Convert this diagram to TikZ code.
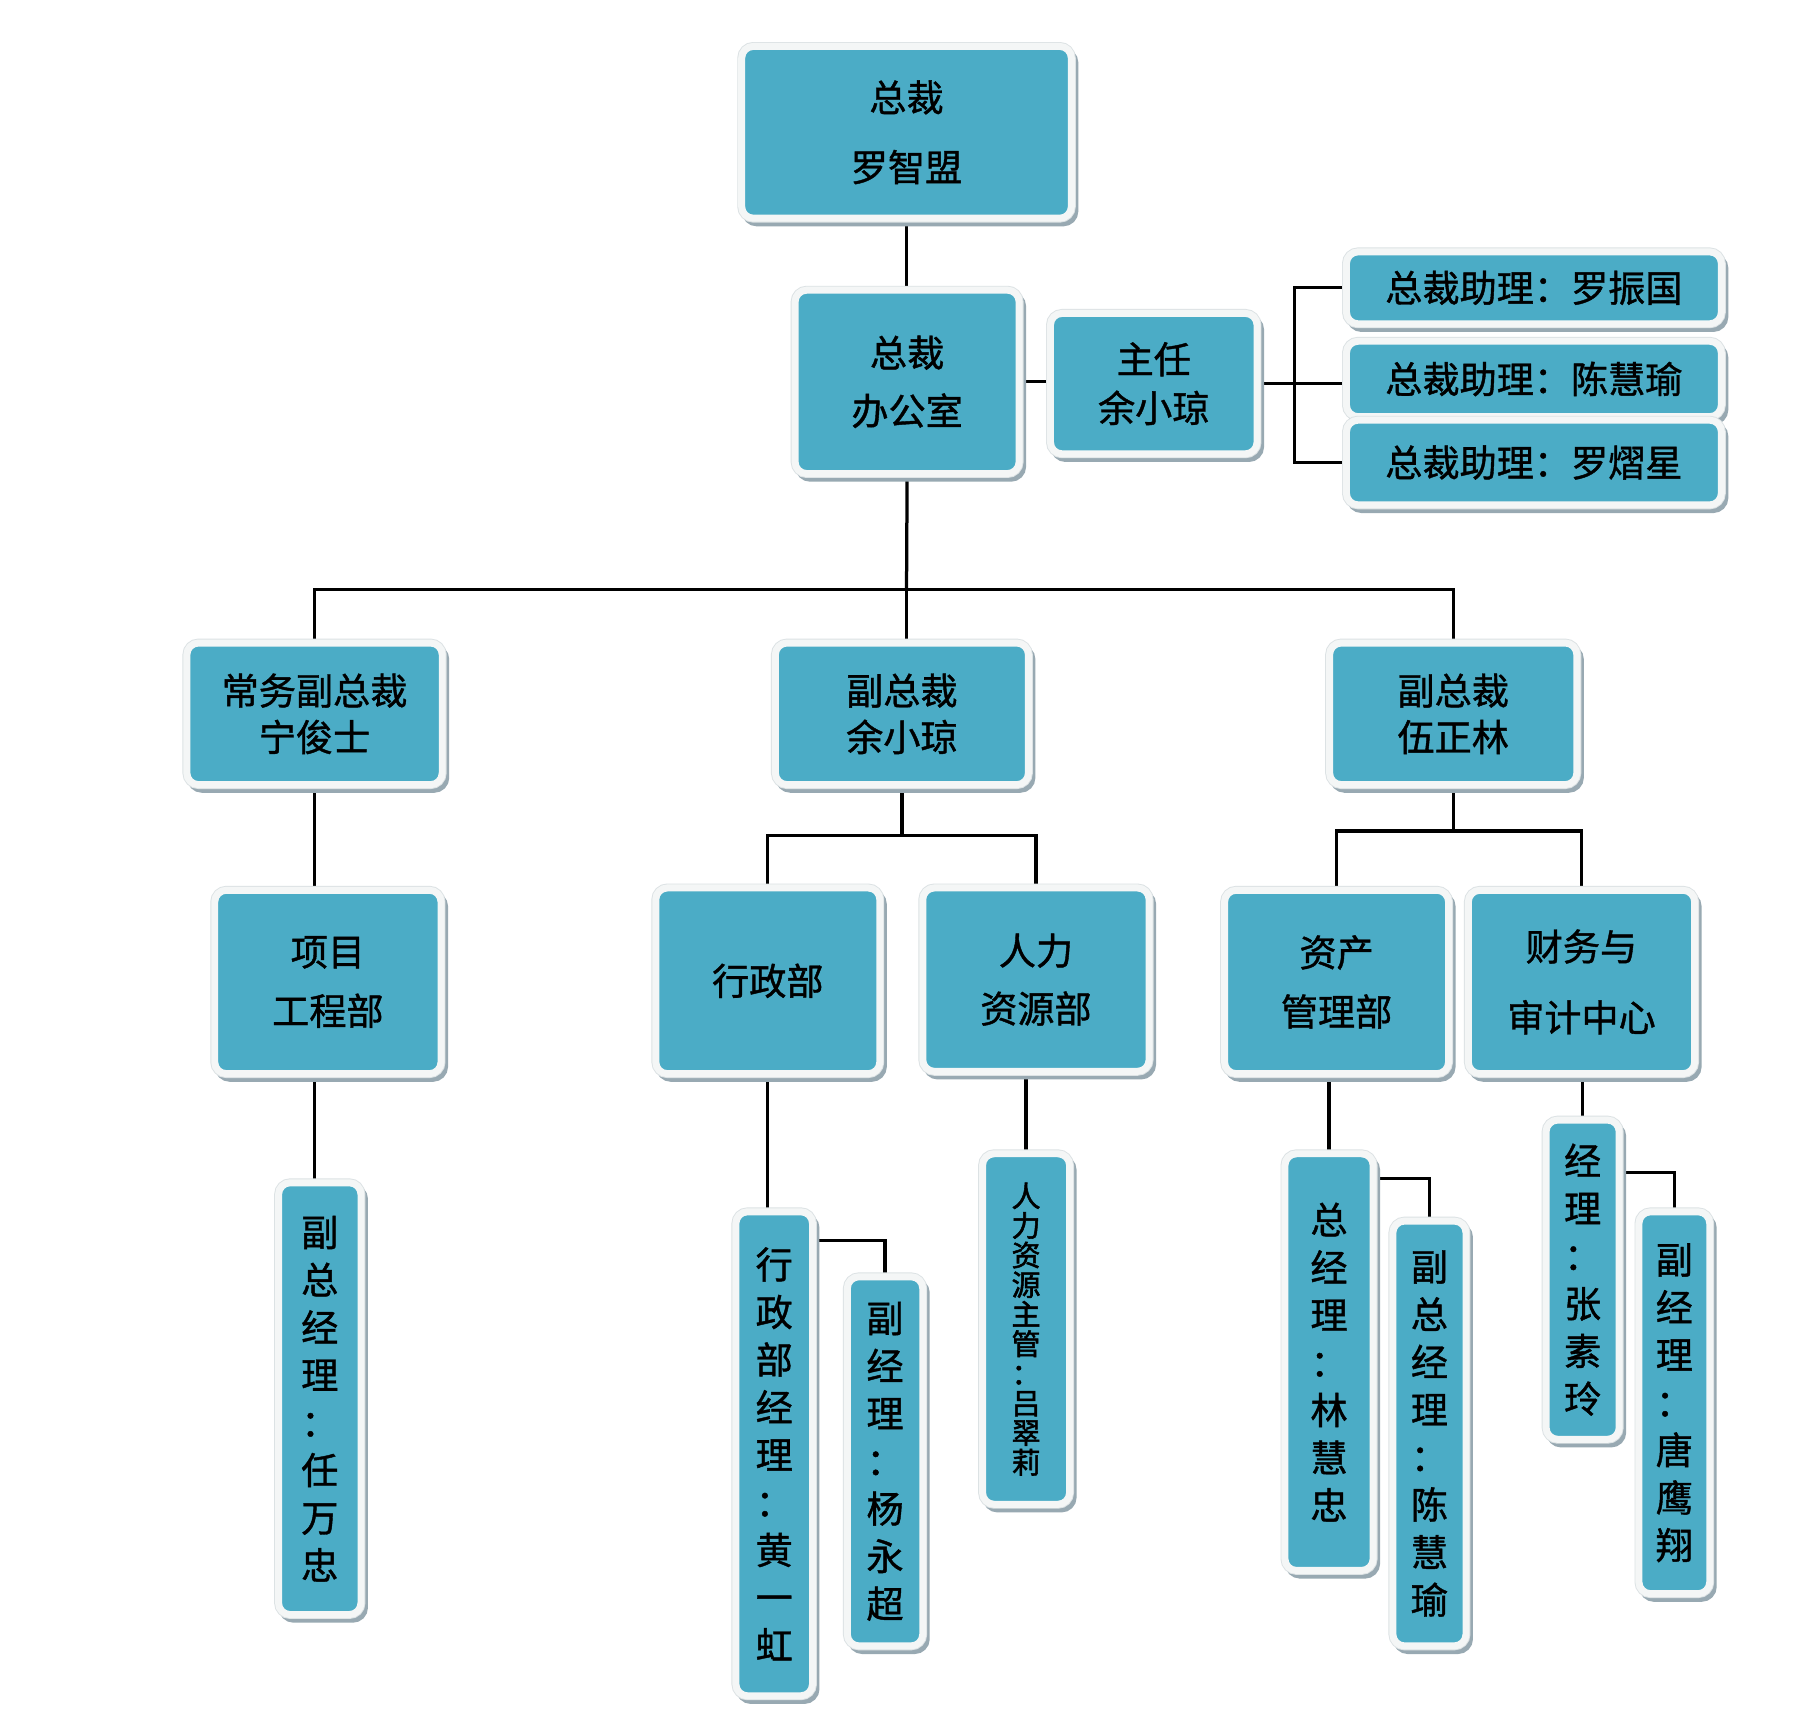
\documentclass[tikz,border=0pt]{standalone}
\usepackage{fontspec}
\newfontfamily\cjk[FakeBold=1.1]{Noto Sans CJK SC}
\newfontfamily\cjkb[FakeBold=1.8]{Noto Sans CJK SC}
\definecolor{boxblue}{HTML}{4BACC6}
\definecolor{framew}{HTML}{F4F6F6}
\definecolor{edgec}{HTML}{DCE2E4}
\definecolor{shadowc}{HTML}{98A9B2}
\pgfdeclarelayer{bg}
\pgfsetlayers{bg,main}
\tikzset{
  orgbox/.style={rounded corners=5pt, fill=boxblue, draw=framew, line width=3pt,
    inner sep=0pt, align=center,
    preaction={fill=shadowc, draw=shadowc, line width=3pt, transform canvas={shift={(1.5pt,-2pt)}}},
    preaction={draw=edgec, line width=3.8pt}},
  bsz/.style 2 args={minimum width=#1*0.5pt+3pt, minimum height=#2*0.5pt+3pt},
  lsp/.style={font=\cjk\fontsize{16}{#1}\selectfont},
  vt/.style={font=\cjk\fontsize{16}{20.5}\selectfont},
  vts/.style={font=\cjkb\fontsize{12.5}{12.75}\selectfont},
  conn/.style={line width=1.4pt, black},
}
\begin{document}
\begin{tikzpicture}[x=0.5pt,y=-0.5pt]
\useasboundingbox (0,0) rectangle (1568,1492);
% level 0/1
\node[orgbox,bsz={278}{142},lsp=30] (top) at (781,114) {总裁\\罗智盟};
\node[orgbox,bsz={187}{152},lsp=25] (office) at (781.5,329) {总裁\\办公室};
\node[orgbox,bsz={172}{115},lsp=21] (zr) at (994,330.5) {主任\\余小琼};
\node[orgbox,bsz={317}{56},lsp=20] (a1) at (1321.5,248) {总裁助理：罗振国};
\node[orgbox,bsz={317}{59},lsp=20] (a2) at (1321.5,326.5) {总裁助理：陈慧瑜};
\node[orgbox,bsz={317}{67},lsp=20] (a3) at (1321.5,398.5) {总裁助理：罗熠星};
% level 2
\node[orgbox,bsz={214}{116},lsp=20] (vp1) at (271,615) {常务副总裁\\宁俊士};
\node[orgbox,bsz={212}{116},lsp=20] (vp2) at (777,615) {副总裁\\余小琼};
\node[orgbox,bsz={207}{116},lsp=20] (vp3) at (1252,615) {副总裁\\伍正林};
% level 3
\node[orgbox,bsz={189}{152},lsp=25.5] (xm) at (282.5,846) {项目\\工程部};
\node[orgbox,bsz={187}{154},lsp=25] (xz) at (661.5,845) {行政部};
\node[orgbox,bsz={189}{152},lsp=25] (rl) at (892.5,844) {人力\\资源部};
\node[orgbox,bsz={187}{152},lsp=25.5] (zc) at (1151.5,846) {资产\\管理部};
\node[orgbox,bsz={189}{152},lsp=30.5] (cw) at (1362.5,846) {财务与\\审计中心};
% level 4 (vertical)
\node[orgbox,bsz={65}{366},vt] (rwz) at (275.5,1205) {副\\总\\经\\理\\：\\任\\万\\忠};
\node[orgbox,bsz={60}{411},vt] (hyh) at (667,1252.5) {行\\政\\部\\经\\理\\：\\黄\\一\\虹};
\node[orgbox,bsz={59}{312},vt] (yyc) at (762.5,1259) {副\\经\\理\\：\\杨\\永\\超};
\node[orgbox,bsz={69}{296},vts] (lcl) at (884,1145) {人\\力\\资\\源\\主\\管\\：\\吕\\翠\\莉};
\node[orgbox,bsz={70}{353},vt] (lhz) at (1145,1173.5) {总\\经\\理\\：\\林\\慧\\忠};
\node[orgbox,bsz={57}{360},vt] (chy) at (1231.5,1235) {副\\总\\经\\理\\：\\陈\\慧\\瑜};
\node[orgbox,bsz={57}{269},vt] (zsl) at (1363.5,1102.5) {经\\理\\：\\张\\素\\玲};
\node[orgbox,bsz={55}{323},vt] (tyx) at (1442.5,1208.5) {副\\经\\理\\：\\唐\\鹰\\翔};
\coordinate (hb) at (781,508);
\coordinate (m2) at (777,720);
\coordinate (m3) at (1252,716);
\begin{pgfonlayer}{bg}
\fill[white] (0,0) rectangle (1568,1492);
\draw[conn] (top.south) -- (top.south |- office.north);
\draw[conn] (office.east) -- (office.east -| zr.west);
\draw[conn] (zr.east) -- (zr.east -| a2.west);
\draw[conn] (a1.west) -- ++(-42,0) |- (a3.west);
\draw[conn] (office.south) -- (hb);
\draw[conn] (vp1.north) |- (hb) -| (vp3.north);
\draw[conn] (hb) -- (hb |- vp2.north);
\draw[conn] (vp1.south) -- (vp1.south |- rwz.north);
\draw[conn] (vp2.south) -- (m2);
\draw[conn] (xz.north) |- (m2) -| (rl.north);
\draw[conn] (xz.south) -- (xz.south |- hyh.north);
\draw[conn] (hyh.north east) ++(0,28) -| (yyc.north);
\draw[conn] (lcl.north) -- (lcl.north |- rl.south);
\draw[conn] (vp3.south) -- (m3);
\draw[conn] (zc.north) |- (m3) -| (cw.north);
\draw[conn] (lhz.north) -- (lhz.north |- zc.south);
\draw[conn] (lhz.north east) ++(0,24) -| (chy.north);
\draw[conn] (zsl.north) -- (zsl.north |- cw.south);
\draw[conn] (zsl.north east) ++(0,48) -| (tyx.north);
\end{pgfonlayer}
\end{tikzpicture}
\end{document}
